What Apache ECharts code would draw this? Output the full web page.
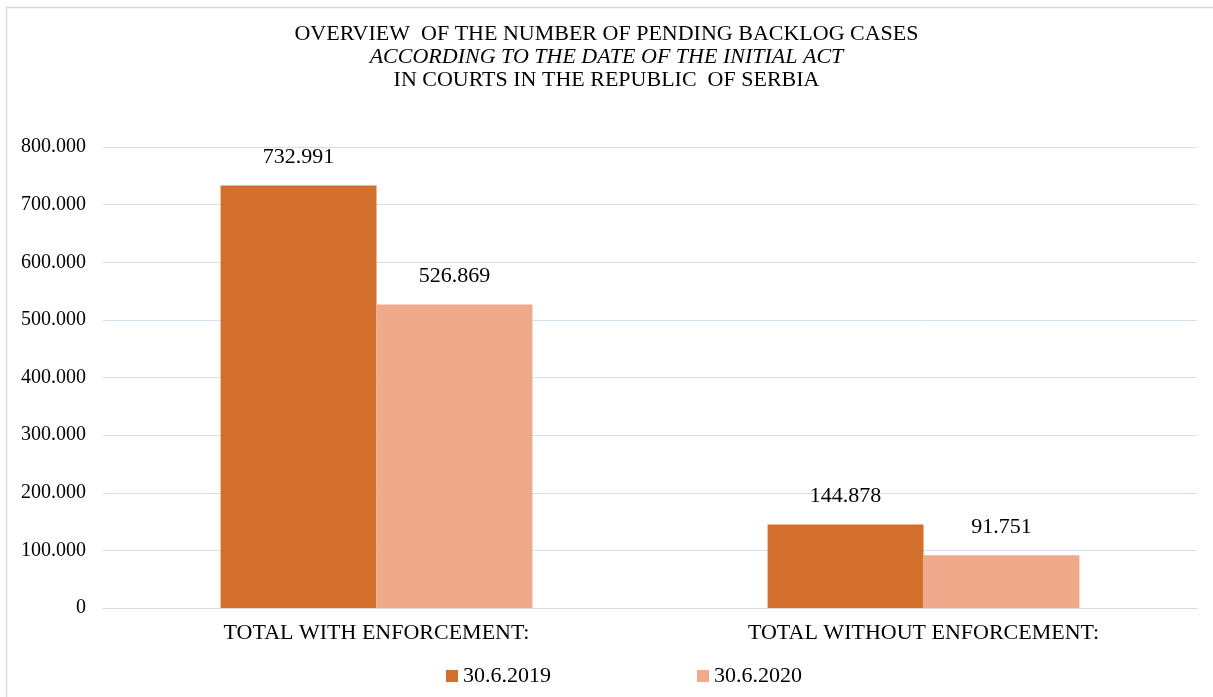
<!DOCTYPE html>
<html>
<head>
<meta charset="utf-8">
<script src="https://cdn.jsdelivr.net/npm/echarts@6/dist/echarts.min.js"></script>
<style>
  html, body { margin: 0; padding: 0; background: #fff; }
  #chart { width: 1213px; height: 697px; }
</style>
</head>
<body>
<div id="chart"></div>
<script>
// data
var categories = ['TOTAL WITH ENFORCEMENT:', 'TOTAL WITHOUT ENFORCEMENT:']
var seriesNames = ['30.6.2019', '30.6.2020']
var values2019 = [732991, 144878]
var values2020 = [526869, 91751]

var serif = '"Liberation Serif", "DejaVu Serif", serif'

// 732991 -> 732.991
function fmt(v) {
    return String(Math.round(v)).replace(/\B(?=(\d{3})+(?!\d))/g, '.')
}

var chart = echarts.init(document.getElementById('chart'))

var labelStyle = {
    show: true,
    position: 'top',
    distance: 17,
    fontFamily: serif,
    fontSize: 22,
    color: '#000',
    formatter: function (p) { return fmt(p.value) }
}

chart.setOption({
    backgroundColor: '#fff',
    animation: false,
    textStyle: { fontFamily: serif, color: '#000' },
    title: {
        left: 'center',
        top: 18,
        text: '{n|OVERVIEW  OF THE NUMBER OF PENDING BACKLOG CASES}\n{i|ACCORDING TO THE DATE OF THE INITIAL ACT}\n{n|IN COURTS IN THE REPUBLIC  OF SERBIA}',
        textStyle: {
            fontFamily: serif,
            fontWeight: 'normal',
            lineHeight: 23,
            rich: {
                n: { fontFamily: serif, fontSize: 22, color: '#000', lineHeight: 23 },
                i: { fontFamily: serif, fontSize: 22, fontStyle: 'italic', color: '#000', lineHeight: 23 }
            }
        }
    },
    legend: {
        bottom: 10,
        left: 446,
        itemGap: 146,
        itemWidth: 12,
        itemHeight: 12,
        icon: 'rect',
        padding: 0,
        textStyle: { fontFamily: serif, fontSize: 22, color: '#000' },
        data: seriesNames
    },
    grid: {
        left: 103,
        right: 16,
        top: 147,
        bottom: 89,
        containLabel: false
    },
    xAxis: {
        type: 'category',
        data: categories,
        axisLine: { lineStyle: { color: '#d9d9d9' } },
        axisTick: { show: false },
        axisLabel: { fontFamily: serif, fontSize: 22, color: '#000', margin: 14 }
    },
    yAxis: {
        type: 'value',
        min: 0,
        max: 800000,
        interval: 100000,
        axisLine: { show: false },
        axisTick: { show: false },
        splitLine: { lineStyle: { color: '#cfe0f0' } },
        axisLabel: {
            fontFamily: serif,
            fontSize: 20,
            color: '#000',
            margin: 17,
            formatter: fmt
        }
    },
    series: [
        {
            name: seriesNames[0],
            type: 'bar',
            data: values2019,
            barGap: '0%',
            barCategoryGap: '43%',
            itemStyle: { color: '#d36f2d' },
            label: labelStyle
        },
        {
            name: seriesNames[1],
            type: 'bar',
            data: values2020,
            barGap: '0%',
            barCategoryGap: '43%',
            itemStyle: { color: '#f0a98b' },
            label: labelStyle
        }
    ],
    graphic: [
        {
            type: 'rect',
            silent: true,
            z: -1,
            shape: { x: 6.5, y: 7.5, width: 1230, height: 720 },
            style: { fill: 'none', stroke: '#d9d9d9', lineWidth: 1.5 }
        }
    ]
})
</script>
</body>
</html>
